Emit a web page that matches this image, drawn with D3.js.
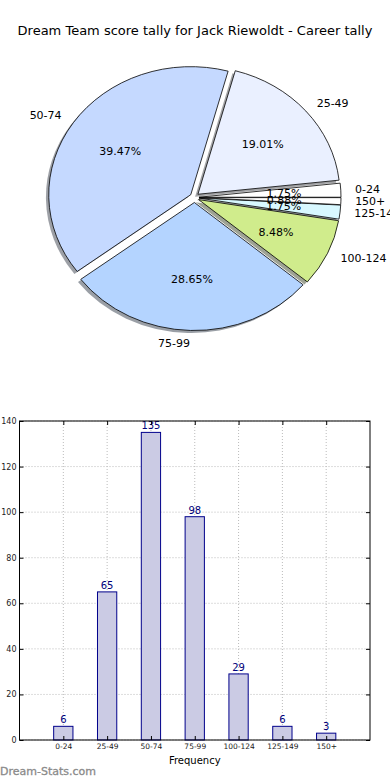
<!DOCTYPE html>
<html><head><meta charset="utf-8">
<script src="https://cdn.jsdelivr.net/npm/d3@7/dist/d3.min.js"></script>
<style>body{margin:0;background:#fff}svg{display:block;font-family:"DejaVu Sans",sans-serif}</style>
</head><body>
<svg id="c" width="390" height="780"></svg>
<script>
const categories = ["0-24","25-49","50-74","75-99","100-124","125-149","150+"];
const counts = [6,65,135,98,29,6,3];
const pieColors = ["#ffffff","#eaf0ff","#c5d9ff","#b4d4ff","#d0ec8c","#d8f8ff","#ffffff"];
const yTicks = [0,20,40,60,80,100,120,140];
const title = "Dream Team score tally for Jack Riewoldt - Career tally";

const svg = d3.select("#c");
svg.append("text").attr("x",195).attr("y",35).attr("text-anchor","middle")
  .attr("font-size",13).attr("fill","#000").text(title);

// ---- Pie ----
const cx=194.5, cy=197.5, rx=142, ry=128, ex=4.5, ey=5;
const total = d3.sum(counts);
const pie = d3.pie().sort(null).startAngle(Math.PI/2).endAngle(Math.PI/2-2*Math.PI);
const arcs = pie(counts);
const arc = d3.arc().innerRadius(0).outerRadius(1);
const g = svg.append("g");
function off(d){const a=(d.startAngle+d.endAngle)/2;return [ex*Math.sin(a), -ey*Math.cos(a)];}
// shadows
arcs.forEach((d,i)=>{
  const [ox,oy]=off(d);
  const c=d3.rgb(pieColors[i]);
  g.append("path").attr("d",arc(d))
   .attr("transform",`translate(${cx+ox-2.8},${cy+oy+2.6}) scale(${rx},${ry})`)
   .attr("fill",`rgb(${c.r*0.3},${c.g*0.3},${c.b*0.3})`).attr("fill-opacity",0.5);
});
arcs.forEach((d,i)=>{
  const [ox,oy]=off(d);
  g.append("path").attr("d",arc(d))
   .attr("transform",`translate(${cx+ox},${cy+oy}) scale(${rx},${ry})`)
   .attr("fill",pieColors[i]).attr("stroke","#000").attr("stroke-width",0.8)
   .attr("vector-effect","non-scaling-stroke");
});
arcs.forEach((d,i)=>{
  const [ox,oy]=off(d);
  const a=(d.startAngle+d.endAngle)/2;
  const s=Math.sin(a), c=Math.cos(a);
  g.append("text").attr("x",cx+ox+1.1*rx*s).attr("y",cy+oy-1.1*ry*c)
   .attr("dy","0.35em").attr("font-size",11)
   .attr("text-anchor", s>0?"start":"end").text(categories[i]);
  g.append("text").attr("x",cx+ox+0.6*rx*s).attr("y",cy+oy-0.6*ry*c)
   .attr("dy","0.35em").attr("font-size",11).attr("text-anchor","middle")
   .text((counts[i]/total*100).toFixed(2)+"%");
});

// ---- Bar chart ----
const L=19.5, R=370, T=421, B=740;
const x = d3.scaleLinear().domain([0,categories.length+1]).range([L,R]);
const y = d3.scaleLinear().domain([0,140]).range([B,T]);
const bg = svg.append("g");
// grid
bg.selectAll(".gy").data(yTicks).join("line")
  .attr("x1",L).attr("x2",R).attr("y1",d=>y(d)).attr("y2",d=>y(d))
  .attr("stroke","#bbb").attr("stroke-width",1).attr("stroke-dasharray","1,2");
bg.selectAll(".gx").data(categories).join("line")
  .attr("x1",(d,i)=>x(i+1)).attr("x2",(d,i)=>x(i+1)).attr("y1",T).attr("y2",B)
  .attr("stroke","#bbb").attr("stroke-width",1).attr("stroke-dasharray","1,2");
// bars
const bw = x(0.44)-x(0);
bg.selectAll(".bar").data(counts).join("rect")
  .attr("x",(d,i)=>x(i+1)-bw/2).attr("width",bw)
  .attr("y",d=>y(d)).attr("height",d=>B-y(d))
  .attr("fill","#cbcbe4").attr("stroke","#00008b").attr("stroke-width",1);
bg.selectAll(".val").data(counts).join("text")
  .attr("x",(d,i)=>x(i+1)).attr("y",d=>y(d)-3)
  .attr("text-anchor","middle").attr("font-size",10).attr("fill","#00007a").text(d=>d);
// axes (ticks inward on all sides)
const yAxisL = d3.axisLeft(y).tickValues(yTicks).tickSize(-4).tickPadding(3);
const ya = bg.append("g").attr("transform",`translate(${L},0)`).call(yAxisL);
ya.select(".domain").remove();
ya.selectAll("text").attr("font-size",8).attr("fill","#222").attr("font-family","DejaVu Sans");
ya.selectAll("line").attr("stroke","#000");
const yAxisR = d3.axisRight(y).tickValues(yTicks).tickSize(-4).tickFormat("");
const yr = bg.append("g").attr("transform",`translate(${R},0)`).call(yAxisR);
yr.select(".domain").remove();
const xAxisB = d3.axisBottom(x).tickValues(d3.range(1,categories.length+1))
  .tickFormat(d=>categories[d-1]).tickSize(-4).tickPadding(4);
const xa = bg.append("g").attr("transform",`translate(0,${B})`).call(xAxisB);
xa.select(".domain").remove();
xa.selectAll("text").attr("font-size",7.5).attr("fill","#222").attr("font-family","DejaVu Sans");
const xAxisT = d3.axisTop(x).tickValues(d3.range(1,categories.length+1)).tickSize(-4).tickFormat("");
const xt = bg.append("g").attr("transform",`translate(0,${T})`).call(xAxisT);
xt.select(".domain").remove();
bg.append("rect").attr("x",L).attr("y",T).attr("width",R-L).attr("height",B-T)
  .attr("fill","none").attr("stroke","#000").attr("stroke-width",1);
bg.append("text").attr("x",(L+R)/2).attr("y",764).attr("text-anchor","middle")
  .attr("font-size",10).text("Frequency");
svg.append("text").attr("x",0).attr("y",775).attr("font-size",11)
  .attr("fill","#8a8a8a").attr("stroke","#8a8a8a").attr("stroke-width",0.3).text("Dream-Stats.com");
</script>
</body></html>
